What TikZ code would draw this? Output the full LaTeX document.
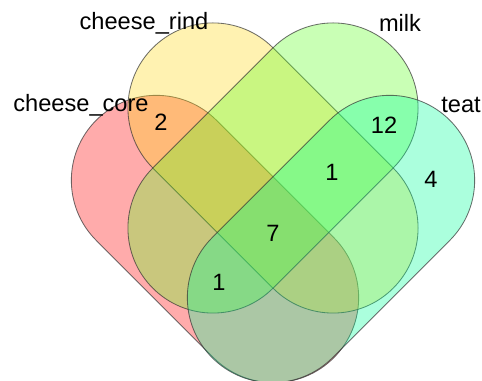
\documentclass[tikz,border=0pt]{standalone}
\usepackage{fontspec}
\setmainfont{Liberation Sans}
\usetikzlibrary{positioning}

\definecolor{corecol}{RGB}{255,0,0}
\definecolor{rindcol}{RGB}{255,216,18}
\definecolor{milkcol}{RGB}{90,255,30}
\definecolor{teatcol}{RGB}{0,255,153}

\begin{document}
\begin{tikzpicture}[scale=0.025,
    set/.style={fill opacity=0.33, draw=black!80, draw opacity=0.7, line width=0.6pt},
    lab/.style={font=\fontsize{16.8}{20}\selectfont, inner sep=0pt}]
    \useasboundingbox (0,0) rectangle (482,381);
    % cheese_core
    \begin{scope}[shift={(215,142)},rotate=-45]
        \filldraw[set,fill=corecol] (-83,-85) -- (83,-85) arc (-90:90:85) -- (-83,85) arc (90:270:85) -- cycle;
    \end{scope}
    % cheese_rind
    \begin{scope}[shift={(273,213)},rotate=-45]
        \filldraw[set,fill=rindcol] (-85,-85) -- (85,-85) arc (-90:90:85) -- (-85,85) arc (90:270:85) -- cycle;
    \end{scope}
    % milk
    \begin{scope}[shift={(273,213)},rotate=45]
        \filldraw[set,fill=milkcol] (-85,-85) -- (85,-85) arc (-90:90:85) -- (-85,85) arc (90:270:85) -- cycle;
    \end{scope}
    % teat
    \begin{scope}[shift={(331,142)},rotate=45]
        \filldraw[set,fill=teatcol] (-83,-85) -- (83,-85) arc (-90:90:85) -- (-83,85) arc (90:270:85) -- cycle;
    \end{scope}
    % set names
    \node[lab,anchor=base] (rind) at (144,351) {cheese\_rind};
    \node[lab,anchor=base] (milk) at (400,349) {milk};
    \node[lab,anchor=base] (core) at (81,269) {cheese\_core};
    \node[lab,anchor=base] (teat) at (461,268) {teat};
    % counts
    \node[lab] (n2) at (161,259) {2};
    \node[lab] (n12) at (384,256) {12};
    \node[lab] (n1a) at (332,209) {1};
    \node[lab] (n4) at (431,202) {4};
    \node[lab] (n7) at (273,148) {7};
    \node[lab] (n1b) at (219,99) {1};
\end{tikzpicture}
\end{document}
